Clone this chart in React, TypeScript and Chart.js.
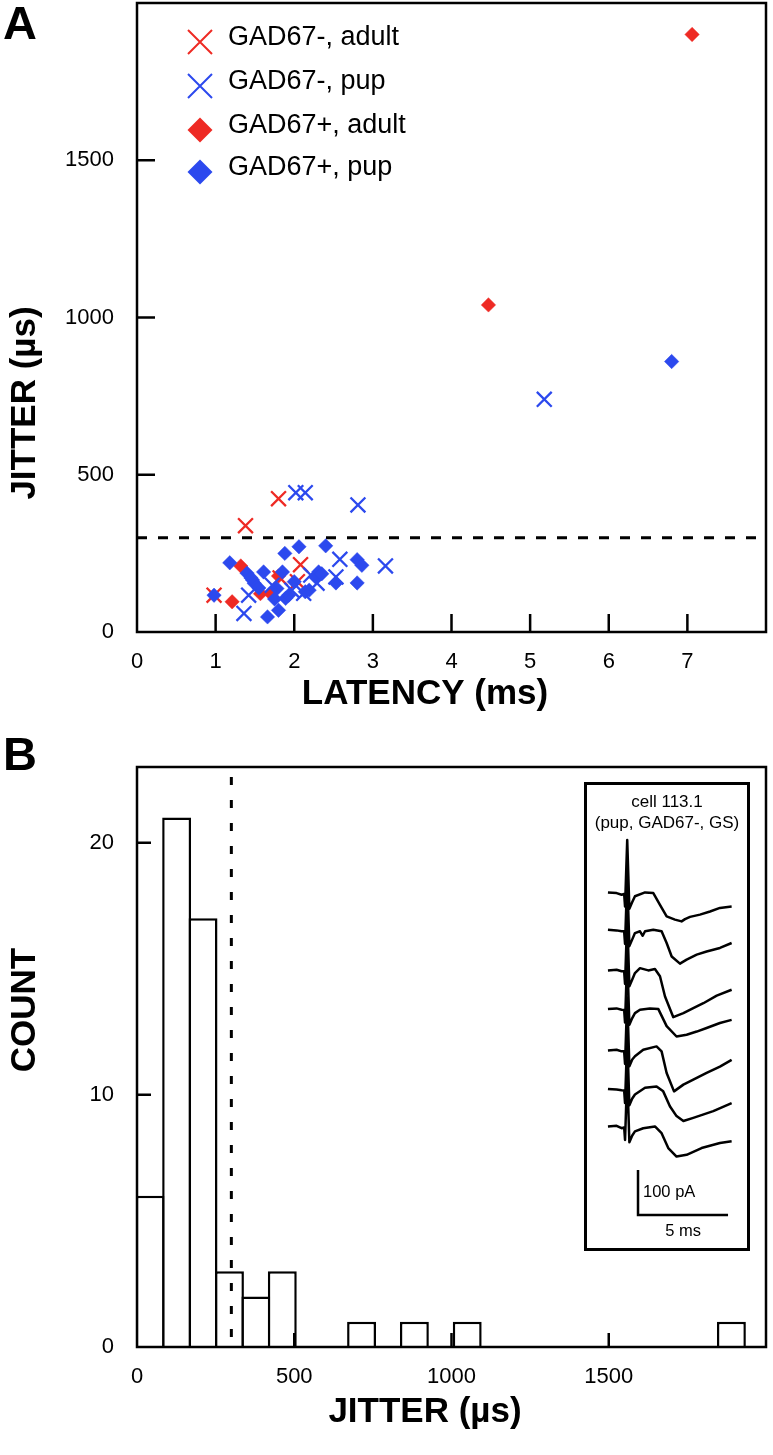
import React, { useEffect, useRef } from 'react';
import { Chart, registerables } from 'chart.js';

Chart.register(...registerables);

const FONT = "'Liberation Sans', Arial, Helvetica, sans-serif";
const RED = '#ee2a24';
const BLUE = '#2c49ee';

// ---------- Panel A: scatter (latency ms, jitter µs) ----------
const gadNegAdultLatency = [0.98, 1.38, 1.8, 2.08, 1.82, 2.04];
const gadNegAdultJitter = [117, 338, 424, 214, 172, 160];

const gadNegPupLatency = [1.36, 1.42, 1.72, 1.97, 2.02, 2.14, 2.12, 2.21, 2.29, 2.53, 2.58, 2.81, 3.16, 5.18];
const gadNegPupJitter = [59, 117, 149, 133, 443, 443, 123, 181, 155, 175, 231, 404, 210, 740];

const gadPosAdultLatency = [1.21, 1.32, 1.57, 1.7, 1.8, 4.47, 7.06];
const gadPosAdultJitter = [96, 210, 122, 122, 178, 1040, 1900];

const gadPosPupLatency = [0.98, 1.18, 1.4, 1.47, 1.49, 1.61, 1.66, 1.8, 1.78, 1.85, 1.88, 1.89, 1.93, 2.06, 2.14, 2.19, 2.27, 2.31, 2.4, 2.53, 2.8, 2.86, 2.8, 6.8, 1.55, 2.0, 1.75, 2.35, 1.45];
const gadPosPupJitter = [117, 220, 187, 165, 155, 191, 48, 69, 138, 191, 250, 107, 117, 271, 128, 133, 175, 191, 274, 156, 230, 212, 156, 860, 140, 160, 105, 185, 172];

const seriesLabels = ['GAD67-, adult', 'GAD67-, pup', 'GAD67+, adult', 'GAD67+, pup'];
const latencyTicks = [0, 1, 2, 3, 4, 5, 6, 7];
const jitterTicks = [0, 500, 1000, 1500];
const jitterThreshold = 300;

// ---------- Panel B: histogram ----------
const binCenters = [42, 126, 210, 294, 378, 462, 546, 630, 714, 798, 882, 966, 1050, 1134, 1218, 1302, 1386, 1470, 1554, 1638, 1722, 1806, 1890];
const binCounts = [6, 21, 17, 3, 2, 3, 0, 0, 1, 0, 1, 0, 1, 0, 0, 0, 0, 0, 0, 0, 0, 0, 1];
const histXTicks = [0, 500, 1000, 1500];
const countTicks = [0, 10, 20];

// ---------- Inset: example traces (time ms, current pA) ----------
const preT = [0, 0.48, 0.76];
const artifactT = [0.9, 0.95, 1.07, 1.19, 1.35];
const artifactV = [-2, -30, 118, -35, -20];

const trace1Pre = [1.5, 0, -3.7];
const trace1PostT = [1.5, 2.06, 2.52, 2.89, 3.26, 3.72, 4.09, 4.28, 4.56, 5.11, 5.67, 6.22, 6.87];
const trace1PostV = [-7, 1.5, 0, -26, -52, -59, -63, -58, -53, -48, -41, -33, -30];

const trace2Pre = [1.5, 0, -2];
const trace2PostT = [1.5, 1.78, 1.93, 2.06, 2.52, 2.98, 3.26, 3.54, 4.0, 4.37, 4.93, 5.48, 6.22, 6.87];
const trace2PostV = [-6, -2, -12, -2, 1.5, -2, -28, -58, -74, -65, -54, -47, -39, -28];

const trace3Pre = [0, 1.5, -2];
const trace3PostT = [1.5, 1.78, 2.24, 2.61, 2.89, 3.17, 3.63, 4.19, 4.74, 5.3, 6.04, 6.87];
const trace3PostV = [-6, 5, 0, 3, -13, -58, -104, -95, -84, -73, -56, -43];

const trace4Pre = [0, 1.5, -1.5];
const trace4PostT = [1.5, 1.78, 2.33, 2.8, 3.26, 3.81, 4.37, 4.93, 5.48, 6.22, 6.87];
const trace4PostV = [-9, -1.5, 1.5, 0, -38, -61, -57, -50, -42, -31, -24];

const trace5Pre = [0, 1.5, -2];
const trace5PostT = [1.5, 1.96, 2.7, 2.98, 3.26, 3.67, 4.19, 4.74, 5.48, 6.22, 6.87];
const trace5PostV = [-13, 1.5, 9, -2, -50, -91, -76, -65, -50, -36, -21];

const trace6Pre = [1.5, 0, -1.5];
const trace6PostT = [1.5, 2.06, 2.7, 3.07, 3.44, 3.81, 4.19, 4.74, 5.85, 6.87];
const trace6PostV = [-11, 4, 7, -4, -37, -59, -70, -63, -48, -30];

const trace7Pre = [0, 1.5, -4];
const trace7PostT = [1.5, 1.96, 2.61, 2.98, 3.35, 3.81, 4.37, 5.2, 6.22, 6.87];
const trace7PostV = [-11, -4, 0, -15, -48, -67, -63, -48, -37, -33];

const traceOffsets = [0, -83, -172, -258, -350, -437, -519];
const scaleBarMs = 5;
const scaleBarPA = 100;
const scaleBarStartMs = 1.67;
const scaleBarStartPA = -716;

const insetTitle = ['cell 113.1', '(pup, GAD67-, GS)'];

// ---------- helpers ----------
const pts = (xs: number[], ys: number[]) => xs.map((x, i) => ({ x, y: ys[i] }));

function buildTrace(pre: number[], postT: number[], postV: number[], offset: number) {
  const t = [...preT, ...artifactT, ...postT];
  const v = [...pre, ...artifactV, ...postV];
  return t.map((x, i) => ({ x, y: v[i] + offset }));
}

function drawX(ctx: CanvasRenderingContext2D, x: number, y: number, h: number) {
  ctx.beginPath();
  ctx.moveTo(x - h, y - h);
  ctx.lineTo(x + h, y + h);
  ctx.moveTo(x + h, y - h);
  ctx.lineTo(x - h, y + h);
  ctx.stroke();
}
function drawDiamond(ctx: CanvasRenderingContext2D, x: number, y: number, h: number) {
  ctx.beginPath();
  ctx.moveTo(x - h, y);
  ctx.lineTo(x, y - h);
  ctx.lineTo(x + h, y);
  ctx.lineTo(x, y + h);
  ctx.closePath();
  ctx.fill();
}

const tickFont = { family: FONT, size: 22 };
const plainLabel = (v: any) => String(v);
const zeroPadY = (w: number) => (s: any) => { s.width = w; s.paddingTop = 0; s.paddingBottom = 0; };
const zeroPadX = (h: number) => (s: any) => { s.height = h; s.paddingLeft = 0; s.paddingRight = 0; };

const panelAPlugin = {
  id: 'panelA',
  beforeDatasetsDraw(chart: any) {
    const { ctx, chartArea: a, scales } = chart;
    const yy = scales.y.getPixelForValue(jitterThreshold);
    ctx.save();
    ctx.strokeStyle = '#000';
    ctx.lineWidth = 3;
    ctx.setLineDash([10, 11]);
    ctx.beginPath();
    ctx.moveTo(a.left, yy);
    ctx.lineTo(a.right, yy);
    ctx.stroke();
    ctx.restore();
  },
  afterDraw(chart: any) {
    const { ctx, chartArea: a, scales } = chart;
    ctx.save();
    ctx.strokeStyle = '#000';
    ctx.lineWidth = 2.5;
    ctx.strokeRect(a.left, a.top, a.right - a.left, a.bottom - a.top);
    ctx.beginPath();
    latencyTicks.slice(1).forEach((v) => {
      const px = scales.x.getPixelForValue(v);
      ctx.moveTo(px, a.bottom);
      ctx.lineTo(px, a.bottom - 18);
    });
    jitterTicks.slice(1).forEach((v) => {
      const py = scales.y.getPixelForValue(v);
      ctx.moveTo(a.left, py);
      ctx.lineTo(a.left + 18, py);
    });
    ctx.stroke();

    // legend
    const colors = [RED, BLUE, RED, BLUE];
    const markerY = [42, 86, 130, 172];
    ctx.font = `27px ${FONT}`;
    ctx.textBaseline = 'middle';
    ctx.textAlign = 'left';
    seriesLabels.forEach((lab, i) => {
      ctx.strokeStyle = colors[i];
      ctx.fillStyle = colors[i];
      ctx.lineWidth = 2;
      if (i < 2) drawX(ctx, 200, markerY[i], 12);
      else drawDiamond(ctx, 200, markerY[i], 12.5);
      ctx.fillStyle = '#000';
      ctx.fillText(lab, 228, markerY[i] - 4);
    });

    // titles
    ctx.fillStyle = '#000';
    ctx.font = `bold 35px ${FONT}`;
    ctx.textAlign = 'center';
    ctx.textBaseline = 'middle';
    ctx.fillText('LATENCY (ms)', 425, 694);
    ctx.save();
    ctx.translate(25, 403);
    ctx.rotate(-Math.PI / 2);
    ctx.fillText('JITTER (µs)', 0, 0);
    ctx.restore();
    ctx.font = `bold 47px ${FONT}`;
    ctx.textAlign = 'left';
    ctx.textBaseline = 'alphabetic';
    ctx.fillText('A', 3, 39);
    ctx.restore();
  },
};

const panelBPlugin = {
  id: 'panelB',
  afterDatasetsDraw(chart: any) {
    const { ctx, chartArea: a, scales } = chart;
    ctx.save();
    const xx = scales.x.getPixelForValue(jitterThreshold);
    ctx.strokeStyle = '#000';
    ctx.lineWidth = 3;
    ctx.setLineDash([8, 15]);
    ctx.beginPath();
    ctx.moveTo(xx, a.top + 10);
    ctx.lineTo(xx, a.bottom);
    ctx.stroke();
    ctx.setLineDash([]);
    ctx.lineWidth = 2.5;
    ctx.strokeRect(a.left, a.top, a.right - a.left, a.bottom - a.top);
    ctx.beginPath();
    countTicks.slice(1).forEach((v) => {
      const py = scales.y.getPixelForValue(v);
      ctx.moveTo(a.left, py);
      ctx.lineTo(a.left + 14, py);
    });
    histXTicks.slice(1).forEach((v) => {
      const px = scales.x.getPixelForValue(v);
      ctx.moveTo(px, a.bottom);
      ctx.lineTo(px, a.bottom - 14);
    });
    ctx.stroke();

    ctx.fillStyle = '#000';
    ctx.font = `bold 35px ${FONT}`;
    ctx.textAlign = 'center';
    ctx.textBaseline = 'middle';
    ctx.fillText('JITTER (µs)', 425, 1412 - 700);
    ctx.save();
    ctx.translate(25, 1010 - 700);
    ctx.rotate(-Math.PI / 2);
    ctx.fillText('COUNT', 0, 0);
    ctx.restore();
    ctx.font = `bold 47px ${FONT}`;
    ctx.textAlign = 'left';
    ctx.textBaseline = 'alphabetic';
    ctx.fillText('B', 3, 770 - 700);
    ctx.restore();
  },
};

const insetPlugin = {
  id: 'inset',
  afterDraw(chart: any) {
    const { ctx, width, height, scales } = chart;
    ctx.save();
    ctx.strokeStyle = '#000';
    ctx.lineWidth = 3;
    ctx.strokeRect(1.5, 1.5, width - 3, height - 3);
    ctx.fillStyle = '#000';
    ctx.font = `17px ${FONT}`;
    ctx.textAlign = 'center';
    ctx.textBaseline = 'middle';
    ctx.fillText(insetTitle[0], width / 2, 20);
    ctx.fillText(insetTitle[1], width / 2, 41);
    const x0 = scales.x.getPixelForValue(scaleBarStartMs);
    const x1 = scales.x.getPixelForValue(scaleBarStartMs + scaleBarMs);
    const y0 = scales.y.getPixelForValue(scaleBarStartPA);
    const y1 = scales.y.getPixelForValue(scaleBarStartPA + scaleBarPA);
    ctx.font = `16.5px ${FONT}`;
    ctx.textAlign = 'left';
    ctx.fillText(`${scaleBarPA} pA`, x0 + 5, (y0 + y1) / 2);
    ctx.textAlign = 'center';
    ctx.fillText(`${scaleBarMs} ms`, (x0 + x1) / 2, y0 + 16);
    ctx.restore();
  },
};

export default function App() {
  const aRef = useRef<HTMLCanvasElement>(null);
  const bRef = useRef<HTMLCanvasElement>(null);
  const iRef = useRef<HTMLCanvasElement>(null);

  useEffect(() => {
    const chartA = new Chart(aRef.current as HTMLCanvasElement, {
      type: 'scatter',
      data: {
        datasets: [
          {
            label: seriesLabels[1],
            data: pts(gadNegPupLatency, gadNegPupJitter),
            pointStyle: 'crossRot',
            pointRadius: 10.5,
            pointBorderWidth: 2.3,
            borderColor: BLUE,
            backgroundColor: BLUE,
            order: 0,
          },
          {
            label: seriesLabels[3],
            data: pts(gadPosPupLatency, gadPosPupJitter),
            pointStyle: 'rectRot',
            pointRadius: 7.2,
            pointBorderWidth: 0.5,
            borderColor: BLUE,
            backgroundColor: BLUE,
            order: 1,
          },
          {
            label: seriesLabels[0],
            data: pts(gadNegAdultLatency, gadNegAdultJitter),
            pointStyle: 'crossRot',
            pointRadius: 10.5,
            pointBorderWidth: 2.3,
            borderColor: RED,
            backgroundColor: RED,
            order: 2,
          },
          {
            label: seriesLabels[2],
            data: pts(gadPosAdultLatency, gadPosAdultJitter),
            pointStyle: 'rectRot',
            pointRadius: 7.2,
            pointBorderWidth: 0.5,
            borderColor: RED,
            backgroundColor: RED,
            order: 3,
          },
        ],
      },
      options: {
        responsive: false,
        animation: false,
        layout: { autoPadding: false, padding: { top: 3, right: 7, left: 0, bottom: 0 } },
        plugins: { legend: { display: false }, tooltip: { enabled: false } },
        scales: {
          x: {
            type: 'linear',
            min: 0,
            max: 8,
            grid: { display: false },
            border: { display: false },
            afterBuildTicks: (s: any) => { s.ticks = latencyTicks.map((v) => ({ value: v })); },
            afterFit: zeroPadX(98),
            ticks: { font: tickFont, color: '#000', padding: 9, autoSkip: false, maxRotation: 0, callback: plainLabel },
          },
          y: {
            type: 'linear',
            min: 0,
            max: 2000,
            grid: { display: false },
            border: { display: false },
            afterBuildTicks: (s: any) => { s.ticks = jitterTicks.map((v) => ({ value: v })); },
            afterFit: zeroPadY(137),
            ticks: { font: tickFont, color: '#000', padding: 15, autoSkip: false, callback: plainLabel },
          },
        },
      },
      plugins: [panelAPlugin],
    } as any);

    const chartB = new Chart(bRef.current as HTMLCanvasElement, {
      type: 'bar',
      data: {
        datasets: [
          {
            label: 'count',
            data: pts(binCenters, binCounts),
            backgroundColor: '#fff',
            borderColor: '#000',
            borderWidth: 2.5,
            borderSkipped: 'bottom',
            barPercentage: 1.094,
            categoryPercentage: 1,
          },
        ],
      },
      options: {
        responsive: false,
        animation: false,
        layout: { autoPadding: false, padding: { top: 67, right: 7, left: 0, bottom: 0 } },
        plugins: { legend: { display: false }, tooltip: { enabled: false } },
        scales: {
          x: {
            type: 'linear',
            offset: false,
            min: 0,
            max: 2000,
            grid: { display: false },
            border: { display: false },
            afterBuildTicks: (s: any) => { s.ticks = histXTicks.map((v) => ({ value: v })); },
            afterFit: zeroPadX(108),
            ticks: { font: tickFont, color: '#000', padding: 9, autoSkip: false, maxRotation: 0, callback: plainLabel },
          },
          y: {
            type: 'linear',
            min: 0,
            max: 23,
            grid: { display: false },
            border: { display: false },
            afterBuildTicks: (s: any) => { s.ticks = countTicks.map((v) => ({ value: v })); },
            afterFit: zeroPadY(137),
            ticks: { font: tickFont, color: '#000', padding: 15, autoSkip: false, callback: plainLabel },
          },
        },
      },
      plugins: [panelBPlugin],
    } as any);

    const traces = [
      buildTrace(trace1Pre, trace1PostT, trace1PostV, traceOffsets[0]),
      buildTrace(trace2Pre, trace2PostT, trace2PostV, traceOffsets[1]),
      buildTrace(trace3Pre, trace3PostT, trace3PostV, traceOffsets[2]),
      buildTrace(trace4Pre, trace4PostT, trace4PostV, traceOffsets[3]),
      buildTrace(trace5Pre, trace5PostT, trace5PostV, traceOffsets[4]),
      buildTrace(trace6Pre, trace6PostT, trace6PostV, traceOffsets[5]),
      buildTrace(trace7Pre, trace7PostT, trace7PostV, traceOffsets[6]),
    ];
    const scaleBar = [
      { x: scaleBarStartMs, y: scaleBarStartPA + scaleBarPA },
      { x: scaleBarStartMs, y: scaleBarStartPA },
      { x: scaleBarStartMs + scaleBarMs, y: scaleBarStartPA },
    ];

    const chartI = new Chart(iRef.current as HTMLCanvasElement, {
      type: 'line',
      data: {
        datasets: [
          ...traces.map((d, i) => ({
            label: `trace ${i + 1}`,
            data: d,
            borderColor: '#000',
            borderWidth: 2.5,
            pointRadius: 0,
            tension: 0,
            borderJoinStyle: 'round',
          })),
          {
            label: 'scale bar',
            data: scaleBar,
            borderColor: '#000',
            borderWidth: 2.5,
            pointRadius: 0,
            tension: 0,
          },
        ],
      },
      options: {
        responsive: false,
        animation: false,
        layout: { autoPadding: false, padding: 0 },
        plugins: { legend: { display: false }, tooltip: { enabled: false } },
        scales: {
          x: { type: 'linear', display: false, min: -1.33, max: 7.89 },
          y: { type: 'linear', display: false, min: -796, max: 247 },
        },
      },
      plugins: [insetPlugin],
    } as any);

    return () => {
      chartA.destroy();
      chartB.destroy();
      chartI.destroy();
    };
  }, []);

  return (
    <div style={{ position: 'absolute', left: 0, top: 0, width: 773, height: 1455, background: '#fff' }}>
      <canvas ref={aRef} width={773} height={730} style={{ position: 'absolute', left: 0, top: 0, width: 773, height: 730 }} />
      <canvas ref={bRef} width={773} height={755} style={{ position: 'absolute', left: 0, top: 700, width: 773, height: 755 }} />
      <canvas ref={iRef} width={166} height={469} style={{ position: 'absolute', left: 584, top: 782, width: 166, height: 469, background: '#fff' }} />
    </div>
  );
}
